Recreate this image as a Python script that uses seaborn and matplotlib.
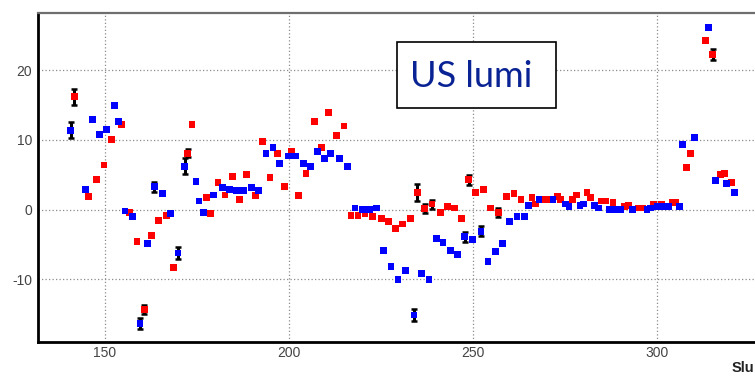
import matplotlib
matplotlib.use("Agg")
import matplotlib.pyplot as plt
from matplotlib.patches import Rectangle
from matplotlib.ticker import MultipleLocator
import numpy as np
import pandas as pd
import seaborn as sns

# ---- data: per-run luminosity deviation, two series ----
red_x = [141.6, 145.4, 147.7, 149.7, 151.7, 154.4, 156.7, 158.7, 160.7, 162.6,
         164.6, 166.6, 168.5, 172.4, 173.6, 177.5, 178.7, 180.7, 182.6, 184.6,
         186.6, 188.5, 190.9, 192.8, 194.8, 196.8, 198.7, 200.7, 202.6, 204.6,
         207.0, 208.9, 210.8, 212.9, 214.9, 216.8, 218.7, 220.6, 222.6, 225.0,
         226.9, 228.8, 230.9, 232.9, 234.8, 236.8, 238.8, 241.1, 243.0, 245.0,
         246.9, 248.8, 250.7, 252.9, 254.7, 256.8, 259.1, 261.1, 263.0, 266.0,
         267.0, 269.2, 270.2, 272.9, 273.8, 277.0, 278.0, 280.9, 281.8, 284.8,
         286.0, 288.0, 291.1, 292.1, 295.0, 296.0, 299.0, 301.1, 304.0, 305.0,
         308.0, 309.1, 313.2, 315.1, 317.1, 318.2, 320.2]
red_y = [16.2, 1.9, 4.3, 6.4, 10.0, 12.2, -0.4, -4.55, -14.3, -3.7,
         -1.5, -0.8, -8.3, 8.1, 12.2, 1.7, -0.6, 3.9, 2.1, 4.8,
         1.4, 5.0, 2.05, 9.8, 4.6, 8.1, 3.35, 8.3, 2.05, 5.2,
         12.6, 8.9, 13.9, 10.6, 12.0, -0.8, -0.8, -0.55, -1.0, -1.25,
         -1.7, -2.7, -2.05, -1.25, 2.5, 0.2, 0.8, -0.4, 0.45, 0.25,
         -1.25, 4.3, 2.5, 2.9, 0.25, -0.4, 1.9, 2.3, 1.45, 1.7,
         0.8, 1.45, 1.45, 1.9, 1.45, 1.45, 2.1, 2.5, 1.7, 1.25,
         1.25, 1.05, 0.45, 0.6, 0.25, 0.25, 0.8, 0.8, 1.05, 1.05,
         6.0, 8.1, 24.2, 22.2, 5.0, 5.2, 3.9]

blue_x = [140.7, 144.6, 146.6, 148.6, 150.5, 152.5, 153.6, 155.4, 157.5, 159.5,
          161.5, 163.4, 165.7, 167.8, 169.8, 171.6, 174.7, 175.5, 176.7, 179.4,
          181.9, 183.9, 185.8, 187.7, 189.7, 191.7, 193.7, 195.6, 197.4, 199.8,
          201.8, 203.8, 205.8, 207.7, 209.7, 211.3, 213.7, 215.9, 217.9, 219.9,
          221.8, 223.7, 225.7, 227.7, 229.6, 231.6, 233.9, 236.0, 238.0, 240.0,
          241.8, 243.8, 245.7, 247.7, 249.9, 252.1, 254.0, 256.0, 258.0, 259.9,
          261.9, 263.9, 265.0, 267.9, 271.7, 275.0, 276.0, 279.0, 280.0, 282.9,
          284.0, 287.0, 289.0, 290.1, 293.2, 297.2, 298.1, 300.0, 302.0, 303.0,
          306.1, 306.8, 310.1, 313.9, 315.8, 318.9, 320.9]
blue_y = [11.4, 2.9, 12.9, 10.8, 11.45, 14.9, 12.6, -0.2, -1.0, -16.3,
          -4.9, 3.3, 2.3, -0.6, -6.2, 6.2, 4.0, 1.25, -0.4, 2.1,
          3.2, 2.9, 2.7, 2.7, 3.2, 2.7, 8.1, 8.95, 6.65, 7.7,
          7.7, 6.65, 6.2, 8.3, 7.3, 8.1, 7.3, 6.2, 0.25, 0.0,
          0.0, 0.25, -5.8, -8.1, -10.0, -8.7, -15.1, -9.1, -10.0, -4.1,
          -4.75, -5.9, -6.4, -3.9, -4.3, -3.1, -7.4, -6.0, -4.9, -1.7,
          -1.0, -1.0, 0.6, 1.45, 1.45, 0.8, 0.45, 0.6, 0.8, 0.6,
          0.25, 0.0, 0.0, 0.0, 0.0, 0.0, 0.25, 0.45, 0.45, 0.45,
          0.45, 9.3, 10.4, 26.1, 4.2, 3.7, 2.5]

# points that carry a statistical error bar: (x, y, error)
red_err_x = [141.6, 160.7, 172.4, 234.8, 236.8, 238.8, 248.8, 256.8, 315.1]
red_err_y = [16.2, -14.3, 8.1, 2.5, 0.2, 0.8, 4.3, -0.4, 22.2]
red_err = [1.15, 0.65, 0.6, 1.2, 0.65, 0.65, 0.7, 0.6, 0.8]

blue_err_x = [140.7, 159.5, 163.4, 169.8, 171.6, 233.9, 247.7, 252.1]
blue_err_y = [11.4, -16.3, 3.3, -6.2, 6.2, -15.1, -3.9, -3.1]
blue_err = [1.1, 0.8, 0.7, 0.9, 1.15, 0.85, 0.7, 0.7]

x_major = [150, 200, 250, 300]
y_major = [-10, 0, 10, 20]

df = pd.concat([
    pd.DataFrame({"slug": red_x, "dev": red_y, "series": "red"}),
    pd.DataFrame({"slug": blue_x, "dev": blue_y, "series": "blue"}),
], ignore_index=True)

sns.set_style("white")
plt.rcParams["font.family"] = ["Liberation Sans", "DejaVu Sans"]
plt.rcParams["axes.unicode_minus"] = False

W, H = 755, 377
fig = plt.figure(figsize=(W / 100, H / 100), dpi=100)
px_l, px_r, px_t, px_b = 37.7, 775.0, 13.0, 342.0
ax = fig.add_axes([px_l / W, 1 - px_b / H, (px_r - px_l) / W, (px_b - px_t) / H])

# error bars underneath the markers
ax.errorbar(red_err_x, red_err_y, yerr=red_err, fmt="none", ecolor="black",
            elinewidth=2.2, capsize=2.2, capthick=1.8, zorder=3)
ax.errorbar(blue_err_x, blue_err_y, yerr=blue_err, fmt="none", ecolor="black",
            elinewidth=2.2, capsize=2.2, capthick=1.8, zorder=3)

sns.scatterplot(data=df, x="slug", y="dev", hue="series",
                palette={"red": "#ff0000", "blue": "#0000ff"},
                marker="s", s=24, linewidth=0, legend=False, ax=ax, zorder=4)

ax.set_xlim(131.71, 331.98)
ax.set_ylim(-18.97, 28.19)
ax.set_xlabel("")
ax.set_ylabel("")

ax.set_xticks(x_major)
ax.set_yticks(y_major)
ax.xaxis.set_minor_locator(MultipleLocator(10))
ax.yaxis.set_minor_locator(MultipleLocator(2))

ax.grid(True, which="major", color="#8c8c8c", linestyle=(0, (1, 1.8)), linewidth=0.9)
ax.set_axisbelow(True)

ax.tick_params(axis="y", which="major", direction="in", length=14.4, width=1.6,
               color="black", labelsize=10, labelcolor="#444444", pad=4)
ax.tick_params(axis="y", which="minor", direction="in", length=7.5, width=1.4, color="black")
ax.tick_params(axis="x", which="major", direction="in", length=7.5, width=1.6,
               color="black", labelsize=10, labelcolor="#444444", pad=3)
ax.tick_params(axis="x", which="minor", direction="in", length=3.5, width=1.4, color="black")

for side in ("left", "bottom"):
    ax.spines[side].set_linewidth(2.0)
    ax.spines[side].set_color("black")
ax.spines["top"].set_linewidth(1.6)
ax.spines["top"].set_color("#6e6e6e")
ax.spines["right"].set_visible(False)

# axis title at the far right end of the x axis
fig.text(754 / W, 1 - 368 / H, "Slu", ha="right", va="center",
         fontsize=10.5, fontweight="bold", color="#222222")

# labelled box
bx0, by0, bx1, by1 = 397.3, 42.3, 555.7, 108.0
fig.add_artist(Rectangle((bx0 / W, 1 - by1 / H), (bx1 - bx0) / W, (by1 - by0) / H,
                         transform=fig.transFigure, facecolor="white",
                         edgecolor="black", linewidth=1.2, zorder=10))
fig.text(471.5 / W, 1 - 86.7 / H, "US lumi", ha="center", va="baseline",
         fontsize=26, color="#0a2394", family=["Lato", "DejaVu Sans"], zorder=11)

fig.savefig("out.png", dpi=100, facecolor="white")
